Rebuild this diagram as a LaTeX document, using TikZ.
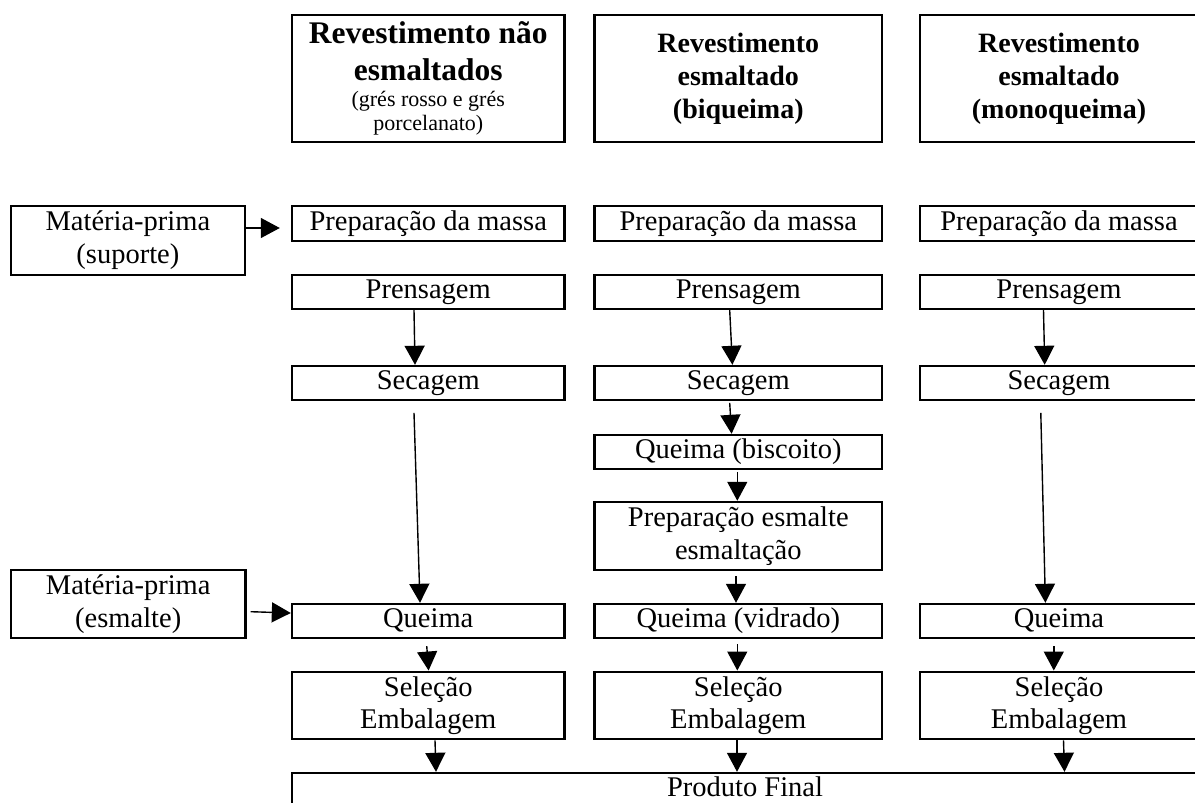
\documentclass[tikz,border=0pt]{standalone}
\usepackage{fontspec}
\setmainfont{Liberation Serif}
\usetikzlibrary{arrows.meta,calc}
\begin{document}
\begin{tikzpicture}[x=1pt,y=-1pt,
  box/.style={draw, line width=2.4pt, inner sep=0pt, align=center, font=\fontsize{28.5}{33}\selectfont},
  one/.style={box, text height=19pt, text depth=6pt},
  hdr/.style={box, minimum height=127pt, font=\fontsize{28}{33}\selectfont\bfseries},
  cA/.style={minimum width=272.5pt},
  cB/.style={minimum width=287.4pt},
  cC/.style={minimum width=278pt},
  rowS/.style={minimum height=34pt},
  rowD/.style={minimum height=67.5pt},
  arr/.style={line width=1.4pt, -{Triangle[width=20pt,length=19pt]}}]
\useasboundingbox (0,0) rectangle (1195,803);
\clip (0,0) rectangle (1195,803);

% headers
\node[hdr, cA] (h1) at (428.25,78.5) {{\fontsize{31.5}{36}\selectfont\bfseries Revestimento não}\\[3.7pt]{\fontsize{31.5}{36}\selectfont\bfseries esmaltados}\\[-6.7pt]{\fontsize{22}{24}\selectfont\mdseries (grés rosso e grés}\\[-9pt]{\fontsize{22}{24}\selectfont\mdseries porcelanato)}};
\node[hdr, cB] (h2) at (738.3,78.5) {Revestimento\\esmaltado\\(biqueima)};
\node[hdr, cC] (h3) at (1059,78.5) {Revestimento\\esmaltado\\(monoqueima)};

% raw material boxes
\node[box, minimum width=234.3pt, minimum height=69pt] (ms) at (127.9,240.5) {Matéria-prima\\(suporte)};
\node[box, minimum width=234.5pt, minimum height=68pt] (me) at (128.25,604) {Matéria-prima\\(esmalte)};

% column 1
\node[one, cA, minimum height=35pt] (p1) at (428.25,223.5) {Preparação da massa};
\node[one, cA, rowS] (pr1) at (428.25,292) {Prensagem};
\node[one, cA, rowS] (se1) at (428.25,383) {Secagem};
\node[one, cA, rowS] (q1) at (428.25,621) {Queima};
\node[box, cA, rowD] (sl1) at (428.25,705.5) {Seleção\\[-1pt]Embalagem};

% column 2
\node[one, cB, minimum height=35pt] (p2) at (738.3,223.5) {Preparação da massa};
\node[one, cB, rowS] (pr2) at (738.3,292) {Prensagem};
\node[one, cB, rowS] (se2) at (738.3,383) {Secagem};
\node[one, cB, rowS] (qb2) at (738.3,452) {Queima (biscoito)};
\node[box, cB, minimum height=68pt] (pe2) at (738.3,536) {Preparação esmalte\\esmaltação};
\node[one, cB, rowS] (q2) at (738.3,621) {Queima (vidrado)};
\node[box, cB, rowD] (sl2) at (738.3,705.5) {Seleção\\[-1pt]Embalagem};

% column 3
\node[one, cC, minimum height=35pt] (p3) at (1059,223.5) {Preparação da massa};
\node[one, cC, rowS] (pr3) at (1059,292) {Prensagem};
\node[one, cC, rowS] (se3) at (1059,383) {Secagem};
\node[one, cC, rowS] (q3) at (1059,621) {Queima};
\node[box, cC, rowD] (sl3) at (1059,705.5) {Seleção\\[-1pt]Embalagem};

% final product
\node[one, minimum width=906pt, minimum height=33pt] (pf) at (745,789.5) {Produto Final};

% horizontal arrows
\draw[arr] ([yshift=12.5pt]ms.east) -- ([xshift=-11pt,yshift=-4.5pt]p1.west);
\draw[arr] ([xshift=4pt,yshift=-7.7pt]me.east) -- ([yshift=8pt]q1.west);

% column 1 arrows
\draw[arr] ([xshift=-14.25pt]pr1.south) -- ([xshift=-13.25pt]se1.north);
\draw[arr] ([xshift=-14.25pt,yshift=-11.7pt]se1.south) -- ([xshift=-8.25pt]q1.north);
\draw[arr] ([xshift=-1.5pt,yshift=-7pt]q1.south) -- ([xshift=0.35pt]sl1.north);
\draw[arr] ([xshift=6.75pt]sl1.south) -- ([xshift=7.75pt]sl1.south |- pf.north);

% column 2 arrows
\draw[arr] ([xshift=-8.6pt]pr2.south) -- ([xshift=-5.9pt]se2.north);
\draw[arr] ([xshift=-8.6pt,yshift=-1.7pt]se2.south) -- ([xshift=-6.7pt]qb2.north);
\draw[arr] ([xshift=-1pt,yshift=-1.7pt]qb2.south) -- ([xshift=-1pt]pe2.north);
\draw[arr] ([xshift=-2.3pt,yshift=-5pt]pe2.south) -- ([xshift=-2.3pt]q2.north);
\draw[arr] ([xshift=-1pt,yshift=-5pt]q2.south) -- ([xshift=-1pt]sl2.north);
\draw[arr] ([xshift=-1.3pt]sl2.south) -- ([xshift=-1.3pt]sl2.south |- pf.north);

% column 3 arrows
\draw[arr] ([xshift=-15.5pt]pr3.south) -- ([xshift=-14.3pt]se3.north);
\draw[arr] ([xshift=-18.2pt,yshift=-11.7pt]se3.south) -- ([xshift=-13.6pt]q3.north);
\draw[arr] ([xshift=-5.2pt,yshift=-7pt]q3.south) -- ([xshift=-5.2pt]sl3.north);
\draw[arr] ([xshift=4.5pt]sl3.south) -- ([xshift=5.5pt]sl3.south |- pf.north);
\end{tikzpicture}
\end{document}
